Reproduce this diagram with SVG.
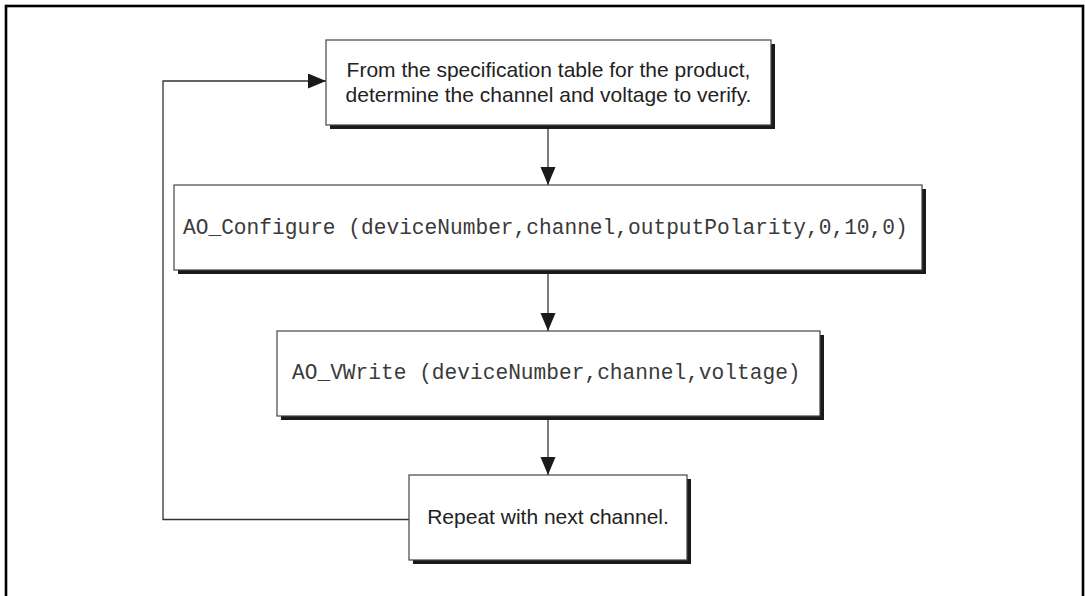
<svg xmlns="http://www.w3.org/2000/svg" width="1085" height="596" viewBox="0 0 1085 596">
  <style>
    .frame { fill: none; stroke: #000; stroke-width: 2.6; }
    .shadow { fill: #1a1a1a; stroke: none; }
    .box { fill: #fff; stroke: #444; stroke-width: 1.2; }
    .conn { fill: none; stroke: #333; stroke-width: 1.3; }
    .sans { font-family: "Liberation Sans", Arial, sans-serif; font-size: 21px; fill: #222; }
    .mono { font-family: "Liberation Mono", "Courier New", monospace; font-size: 21.2px; fill: #3a3a3a; }
  </style>
  <defs>
    <marker id="arrow" markerUnits="userSpaceOnUse" markerWidth="19" markerHeight="16" refX="18" refY="7.5" orient="auto">
      <path d="M0,0 L18,7.5 L0,15 Z" fill="#1a1a1a"/>
    </marker>
  </defs>
  <rect width="1085" height="596" fill="#fff"/>
  <rect class="frame" x="6" y="6" width="1077" height="640"/>

  <g id="connectors">
    <line class="conn" x1="548" y1="125" x2="548" y2="185" marker-end="url(#arrow)"/>
    <line class="conn" x1="548" y1="270" x2="548" y2="331" marker-end="url(#arrow)"/>
    <line class="conn" x1="548" y1="416" x2="548" y2="475" marker-end="url(#arrow)"/>
    <polyline class="conn" points="409,519.5 163,519.5 163,81 326,81" marker-end="url(#arrow)"/>
  </g>

  <g id="node-spec">
    <rect class="shadow" x="330" y="44" width="445" height="85"/>
    <rect class="box" x="326" y="40" width="445" height="85"/>
    <text class="sans" x="548.5" y="77" text-anchor="middle">From the specification table for the product,</text>
    <text class="sans" x="548.5" y="102" text-anchor="middle">determine the channel and voltage to verify.</text>
  </g>

  <g id="node-configure">
    <rect class="shadow" x="178" y="189" width="748" height="85"/>
    <rect class="box" x="174" y="185" width="748" height="85"/>
    <text class="mono" x="183" y="234">AO_Configure (deviceNumber,channel,outputPolarity,0,10,0)</text>
  </g>

  <g id="node-vwrite">
    <rect class="shadow" x="281" y="335" width="543" height="85"/>
    <rect class="box" x="277" y="331" width="543" height="85"/>
    <text class="mono" x="292" y="379">AO_VWrite (deviceNumber,channel,voltage)</text>
  </g>

  <g id="node-repeat">
    <rect class="shadow" x="413" y="479" width="278" height="85"/>
    <rect class="box" x="409" y="475" width="278" height="85"/>
    <text class="sans" x="548" y="524" text-anchor="middle">Repeat with next channel.</text>
  </g>
</svg>
